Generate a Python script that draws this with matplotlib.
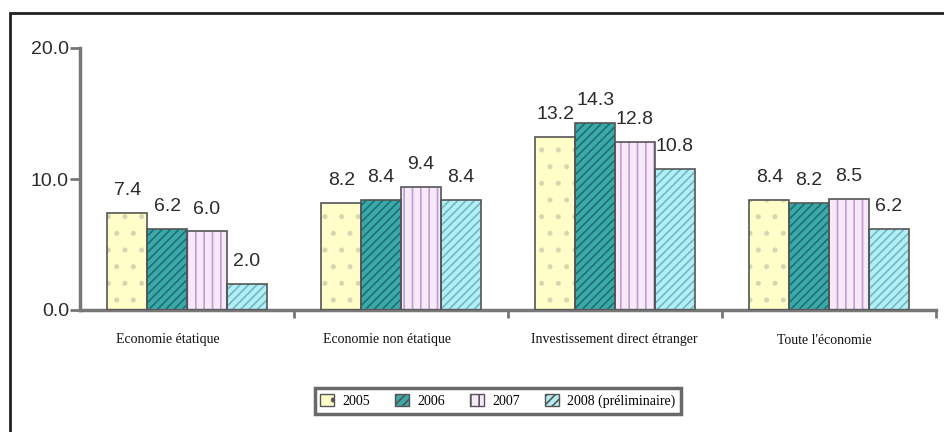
import matplotlib.pyplot as plt
import numpy as np
from matplotlib.patches import Rectangle

categories = ["Economie étatique", "Economie non étatique",
              "Investissement direct étranger", "Toute l'économie"]
years = ["2005", "2006", "2007", "2008 (préliminaire)"]
v2005 = [7.4, 8.2, 13.2, 8.4]
v2006 = [6.2, 8.4, 14.3, 8.2]
v2007 = [6.0, 9.4, 12.8, 8.5]
v2008 = [2.0, 8.4, 10.8, 6.2]
series = [v2005, v2006, v2007, v2008]

fills = ["#fffdc8", "#3aa9aa", "#f6e9f8", "#b2eef4"]
hatch_cols = ["#d6d6b0", "#1f6f72", "#c49ad6", "#6fb9c4"]
hatches = [".", "////", "||", "////"]

plt.rcParams["hatch.linewidth"] = 1.2

fig = plt.figure(figsize=(9.44, 4.32), dpi=100)
ax = fig.add_axes([80 / 944, 1 - 310 / 432, 856 / 944, 262 / 432])

x = np.arange(len(categories))
w = 0.186
for i, vals in enumerate(series):
    pos = x + (i - 1.5) * w
    ax.bar(pos, vals, w, color=fills[i], edgecolor=hatch_cols[i],
           hatch=hatches[i], linewidth=0, zorder=2)
    ax.bar(pos, vals, w, fill=False, edgecolor="#555555", linewidth=1.2, zorder=3)
    for px, v in zip(pos, vals):
        ax.annotate(f"{v:.1f}", (px, v), xytext=(0, 10), textcoords="offset points",
                    ha="center", va="bottom", fontsize=14, color="#2b2b2b",
                    family="Liberation Sans")

ax.set_xlim(-0.5, 3.5)
ax.set_ylim(0, 20)
ax.set_yticks([0, 10, 20])
ax.set_yticklabels(["0.0", "10.0", "20.0"], fontsize=14, color="#2b2b2b",
                   family="Liberation Sans")
ax.set_xticks([0.5, 1.5, 2.5, 3.5])
ax.set_xticklabels([])
ax.tick_params(axis="y", length=7, width=2, color="#777777", pad=1)
ax.tick_params(axis="x", length=6, width=2, color="#777777")
for s in ["top", "right"]:
    ax.spines[s].set_visible(False)
for s in ["left", "bottom"]:
    ax.spines[s].set_color("#777777")
    ax.spines[s].set_linewidth(2.5)

label_x = [168, 387, 614, 824]
for lx, name in zip(label_x, categories):
    fig.text(lx / 944, 1 - 340 / 432, name, ha="center", va="center",
             fontsize=10, family="Liberation Serif", color="#111111")

handles = [Rectangle((0, 0), 1, 1, facecolor=fills[i], edgecolor="#555555",
                     hatch=hatches[i], linewidth=1) for i in range(4)]
leg = fig.legend(handles, years, loc="center", bbox_to_anchor=(498 / 944, 1 - 401 / 432),
                 ncol=4, frameon=True, fancybox=False, handlelength=1.0,
                 handleheight=1.0, columnspacing=1.8, handletextpad=0.6,
                 prop={"family": "Liberation Serif", "size": 10})
leg.get_frame().set_edgecolor("#444444")
leg.get_frame().set_linewidth(2.5)

# outer frame, open to the right and bottom
top = 1 - 13 / 432
fig.patches.append(Rectangle((10 / 944, -0.2), 1.2, top + 0.2,
                             transform=fig.transFigure, fill=False,
                             edgecolor="#222222", linewidth=2))

fig.savefig("out.png", dpi=100)
